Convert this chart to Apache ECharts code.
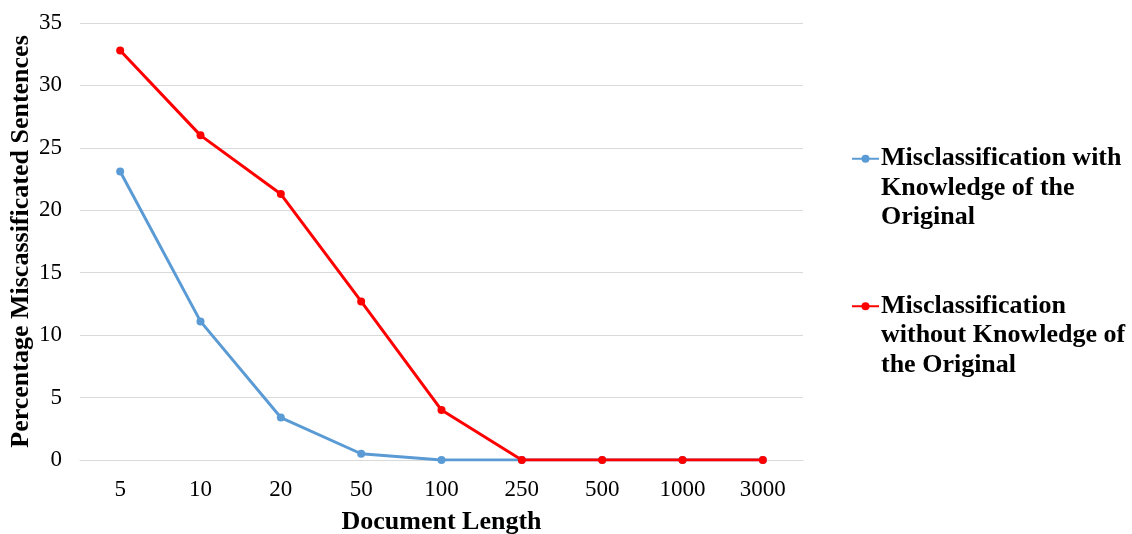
<!DOCTYPE html>
<html>
<head>
<meta charset="utf-8">
<script src="https://cdn.jsdelivr.net/npm/echarts@6/dist/echarts.min.js"></script>
<style>
  html, body { margin: 0; padding: 0; background: #fff; }
  #chart { width: 1132px; height: 534px; }
</style>
</head>
<body>
<div id="chart"></div>
<script>
// Document lengths (sentences) on the x axis
const documentLengths = ['5', '10', '20', '50', '100', '250', '500', '1000', '3000'];
// Percentage of misclassified sentences
const withKnowledge = [23.1, 11.1, 3.4, 0.5, 0, 0, 0, 0, 0];
const withoutKnowledge = [32.8, 26.0, 21.3, 12.7, 4.0, 0, 0, 0, 0];
const seriesNames = [
  'Misclassification with Knowledge of the Original',
  'Misclassification without Knowledge of the Original'
];
const legendLines = {
  [seriesNames[0]]: ['Misclassification with', 'Knowledge of the', 'Original'],
  [seriesNames[1]]: ['Misclassification', 'without Knowledge of', 'the Original']
};

const FONT = '"Liberation Serif", "Times New Roman", serif';
const chart = echarts.init(document.getElementById('chart'), null, { renderer: 'canvas' });

chart.setOption({
  animation: false,
  backgroundColor: '#ffffff',
  grid: { left: 80, right: 329, top: 23, bottom: 74, outerBoundsMode: 'none', containLabel: false },
  legend: {
    orient: 'vertical',
    left: 851,
    top: 85,
    padding: 0,
    itemGap: 0,
    itemWidth: 27,
    itemHeight: 10,
    data: seriesNames,
    // two leading blank lines keep the first text line level with the icon
    formatter: name => '\n\n' + legendLines[name].join('\n'),
    textStyle: {
      fontFamily: FONT,
      fontWeight: 'bold',
      fontSize: 26,
      color: '#000',
      lineHeight: 29.5,
      padding: [0, 0, 0, -3]
    }
  },
  xAxis: {
    type: 'category',
    data: documentLengths,
    boundaryGap: true,
    name: 'Document Length',
    nameLocation: 'middle',
    nameGap: 49,
    nameTextStyle: { fontFamily: FONT, fontWeight: 'bold', fontSize: 26, color: '#000' },
    axisLine: { show: true, lineStyle: { color: '#d9d9d9', width: 1 } },
    axisTick: { show: false },
    axisLabel: { fontFamily: FONT, fontSize: 23, color: '#000', margin: 18 }
  },
  yAxis: {
    type: 'value',
    min: 0,
    max: 35,
    interval: 5,
    name: 'Percentage Miscassificated Sentences',
    nameLocation: 'middle',
    nameGap: 46,
    nameMoveOverlap: false,
    nameTextStyle: { fontFamily: FONT, fontWeight: 'bold', fontSize: 26, color: '#000' },
    axisLine: { show: false },
    axisTick: { show: false },
    axisLabel: { fontFamily: FONT, fontSize: 23, color: '#000', margin: 18 },
    splitLine: { lineStyle: { color: '#d9d9d9', width: 1 } }
  },
  series: [
    {
      name: seriesNames[0],
      type: 'line',
      data: withKnowledge,
      color: '#5b9bd5',
      symbol: 'circle',
      symbolSize: 8,
      lineStyle: { width: 3 },
      z: 2
    },
    {
      name: seriesNames[1],
      type: 'line',
      data: withoutKnowledge,
      color: '#ff0000',
      symbol: 'circle',
      symbolSize: 8,
      lineStyle: { width: 3 },
      z: 3
    }
  ]
});
</script>
</body>
</html>
